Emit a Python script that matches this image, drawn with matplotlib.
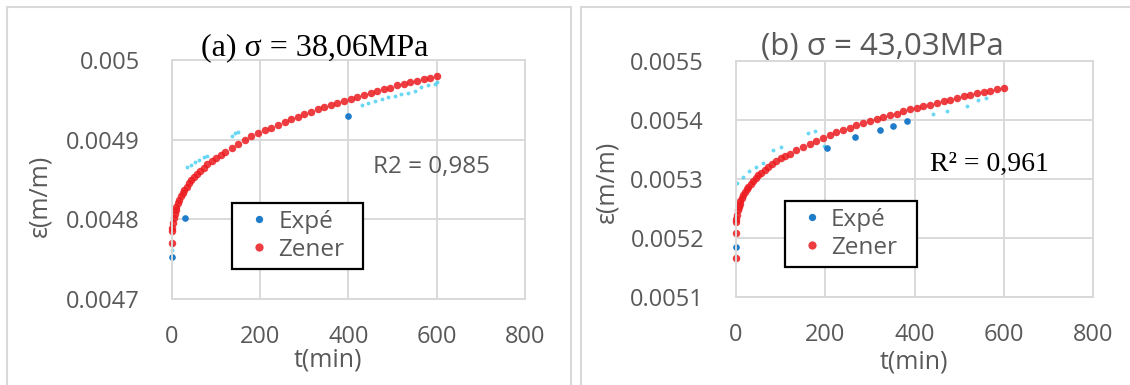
import numpy as np
import matplotlib.pyplot as plt
from matplotlib.patches import Rectangle

plt.rcParams['font.family'] = ['Open Sans', 'DejaVu Sans']

# times of the Zener model points (min)
t_zener = [0, 0.5, 1, 2, 4, 6, 8, 10, 13, 16, 20, 24, 28, 33, 38, 44, 50, 57, 64, 72,
           80, 90, 100, 110, 120, 135, 150, 165, 180, 195, 210, 225, 240, 255, 270, 285,
           300, 315, 330, 345, 360, 375, 390, 405, 420, 435, 450, 465, 480, 495, 510,
           525, 540, 555, 570, 585, 600]

# (a) sigma = 38,06 MPa
eps_zener_a = [0.004770, 0.004785, 0.004789, 0.004795, 0.004802, 0.004807, 0.004812,
               0.004815, 0.004820, 0.004824, 0.004829, 0.004833, 0.004837, 0.004841,
               0.004845, 0.004849, 0.004853, 0.004857, 0.004861, 0.004865, 0.004869,
               0.004873, 0.004877, 0.004881, 0.004885, 0.004890, 0.004895, 0.004899,
               0.004904, 0.004908, 0.004912, 0.004915, 0.004919, 0.004922, 0.004926,
               0.004929, 0.004932, 0.004935, 0.004938, 0.004941, 0.004943, 0.004946,
               0.004949, 0.004951, 0.004954, 0.004956, 0.004959, 0.004961, 0.004963,
               0.004965, 0.004968, 0.004970, 0.004972, 0.004974, 0.004976, 0.004978,
               0.004980]
t_expe_a = [0, 30, 400]
eps_expe_a = [0.004753, 0.004802, 0.004930]
t_trace_a = [0, 0, 34, 42, 52, 62, 72, 80, 135, 143, 150, 430, 445, 460, 475, 490, 505,
             520, 535, 550, 565, 580, 595, 600]
eps_trace_a = [0.004762, 0.004768, 0.004866, 0.004868, 0.004872, 0.004875, 0.004878,
               0.004880, 0.004904, 0.004908, 0.004910, 0.004944, 0.004946, 0.004949,
               0.004951, 0.004953, 0.004955, 0.004957, 0.004959, 0.004961, 0.004966,
               0.004968, 0.004970, 0.004972]

# (b) sigma = 43,03 MPa
t_zener_b = [0] + t_zener
eps_zener_b = [0.005166, 0.005208, 0.005227, 0.005232, 0.005239, 0.005247, 0.005253,
               0.005258, 0.005263, 0.005268, 0.005273, 0.005278, 0.005283, 0.005287,
               0.005292, 0.005297, 0.005302, 0.005306, 0.005311, 0.005315, 0.005320,
               0.005325, 0.005330, 0.005335, 0.005339, 0.005343, 0.005350, 0.005355,
               0.005360, 0.005365, 0.005370, 0.005375, 0.005379, 0.005383, 0.005387,
               0.005391, 0.005395, 0.005398, 0.005402, 0.005405, 0.005408, 0.005411,
               0.005415, 0.005418, 0.005421, 0.005423, 0.005426, 0.005429, 0.005432,
               0.005434, 0.005437, 0.005440, 0.005442, 0.005445, 0.005447, 0.005449,
               0.005452, 0.005454]
t_expe_b = [0, 204, 267, 323, 352, 383]
eps_expe_b = [0.005185, 0.005353, 0.005371, 0.005383, 0.005390, 0.005398]
t_trace_b = [3, 15, 30, 45, 60, 83, 100, 161, 178, 197, 442, 473, 518, 543, 560]
eps_trace_b = [0.005293, 0.005303, 0.005313, 0.005320, 0.005327, 0.005349, 0.005355,
               0.005378, 0.005382, 0.005356, 0.005410, 0.005415, 0.005424, 0.005434,
               0.005437]

x_ticks = [0, 200, 400, 600, 800]
y_ticks_a = [0.0047, 0.0048, 0.0049, 0.005]
y_labels_a = ['0.0047', '0.0048', '0.0049', '0.005']
y_ticks_b = [0.0051, 0.0052, 0.0053, 0.0054, 0.0055]
y_labels_b = ['0.0051', '0.0052', '0.0053', '0.0054', '0.0055']

W, H = 1130, 385
GRAY = '#595959'
GRID = '#d9d9d9'
RED = '#ec1b1f'
BLUE = '#1f7cc9'
CYAN = '#45cdf0'

fig = plt.figure(figsize=(W / 100, H / 100), dpi=100)

# panel frames
fig.patches.append(Rectangle((7 / W, -0.05), (571 - 7) / W, 1.05 - 7 / H,
                             transform=fig.transFigure, fill=False, ec=GRID, lw=1.5))
fig.patches.append(Rectangle((581 / W, -0.05), 0.6, 1.05 - 7 / H,
                             transform=fig.transFigure, fill=False, ec=GRID, lw=1.5))

ax_a = fig.add_axes([172 / W, 1 - 299 / H, (525 - 172) / W, (299 - 60) / H])
ax_b = fig.add_axes([736 / W, 1 - 297 / H, (1093 - 736) / W, (297 - 61) / H])


def style(ax, yt, yl):
    ax.set_xlim(0, 800)
    ax.set_xticks(x_ticks)
    ax.set_ylim(yt[0], yt[-1])
    ax.set_yticks(yt)
    ax.set_yticklabels(yl)
    ax.grid(color=GRID, lw=1.4)
    ax.set_axisbelow(True)
    for s in ax.spines.values():
        s.set_color(GRID)
        s.set_linewidth(1.4)
    ax.tick_params(length=0, labelsize=17, colors=GRAY)
    ax.tick_params(axis='y', pad=23)
    ax.tick_params(axis='x', pad=19)


def draw(ax, tz, ez, te, ee, tt, et, leg_x, leg_y):
    ax.plot(tt, et, ls='none', marker='o', ms=2.8, color=CYAN, alpha=0.8,
            mew=0, clip_on=False)
    ax.plot(te, ee, ls='none', marker='o', ms=4.8, color=BLUE, mew=0,
            clip_on=False, label='Expé')
    ax.plot(tz, ez, ls='none', marker='o', ms=5.4, color=RED, alpha=0.85, mew=0,
            clip_on=False, label='Zener')
    leg = ax.legend(loc='upper left', bbox_to_anchor=(leg_x, leg_y, 0.37, 0.01),
                    mode='expand', borderaxespad=0, fontsize=17.5, fancybox=False,
                    framealpha=1, edgecolor='black', borderpad=0.3, handlelength=1.6,
                    handletextpad=0.0, labelspacing=0.15, markerscale=1.1)
    leg.get_frame().set_linewidth(1.6)
    for txt in leg.get_texts():
        txt.set_color(GRAY)


style(ax_a, y_ticks_a, y_labels_a)
style(ax_b, y_ticks_b, y_labels_b)
draw(ax_a, t_zener, eps_zener_a, t_expe_a, eps_expe_a, t_trace_a, eps_trace_a,
     0.17, 0.393)
draw(ax_b, t_zener_b, eps_zener_b, t_expe_b, eps_expe_b, t_trace_b, eps_trace_b,
     0.137, 0.398)

# titles
fig.text(315 / W, 1 - 55 / H, '(a) σ = 38,06MPa', family='Liberation Serif',
         fontsize=23, ha='center', va='baseline', color='black')
fig.text(882 / W, 1 - 55 / H, '(b) σ = 43,03MPa', fontsize=22.5, ha='center',
         va='baseline', color=GRAY)

# R2 annotations
fig.text(373 / W, 1 - 173 / H, 'R2 = 0,985', fontsize=17.5, ha='left',
         va='baseline', color=GRAY)
fig.text(930 / W, 1 - 171 / H, 'R² = 0,961', family='Liberation Serif', fontsize=20,
         ha='left', va='baseline', color='black')

# axis labels
fig.text(40 / W, 1 - 196 / H, 'ε(m/m)', fontsize=18, rotation=90, ha='center',
         va='center', color=GRAY)
fig.text(607 / W, 1 - 182 / H, 'ε(m/m)', fontsize=18, rotation=90, ha='center',
         va='center', color=GRAY)
fig.text(328 / W, 1 - 360 / H, 't(min)', fontsize=18, ha='center', va='center',
         color=GRAY)
fig.text(914 / W, 1 - 362 / H, 't(min)', fontsize=18, ha='center', va='center',
         color=GRAY)

fig.savefig('out.png', dpi=100)
